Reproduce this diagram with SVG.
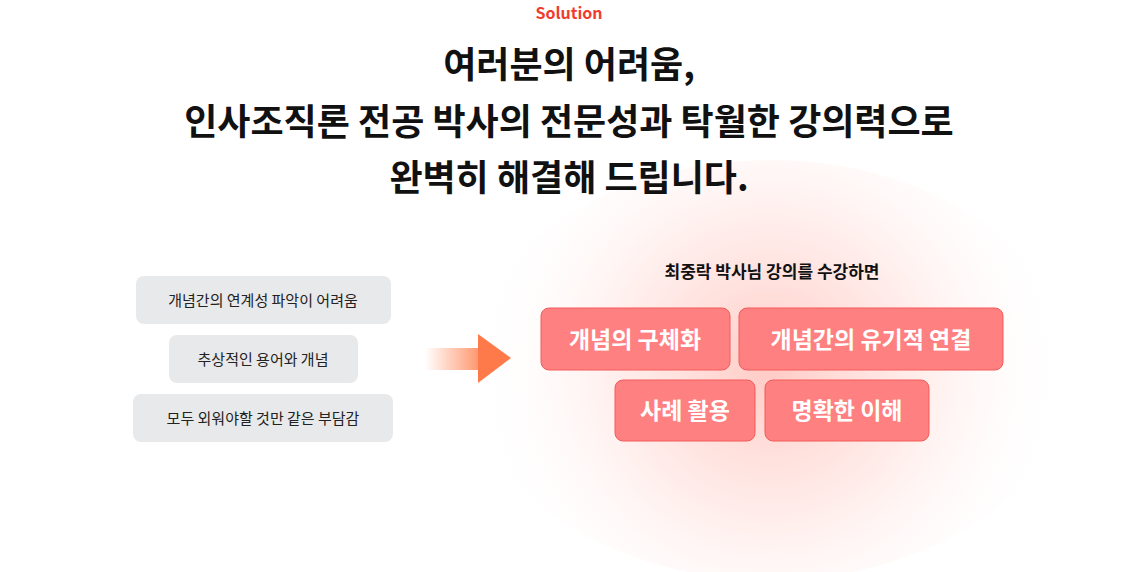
<svg xmlns="http://www.w3.org/2000/svg" width="1140" height="572" viewBox="0 0 1140 572">
<style>
text{font-family:"Noto Sans CJK KR","Noto Sans",sans-serif}
.t{font-size:36px;font-weight:700;fill:#111;text-anchor:middle}
.g{fill:#e8e9eb}
.gt{font-size:15px;fill:#222;text-anchor:middle}
.r{fill:#ff8080;stroke:#f25b5b;stroke-width:1}
.rt{font-size:23px;font-weight:700;fill:#fff;text-anchor:middle}
</style>
<defs>
<radialGradient id="glow" cx="770" cy="370" r="300" gradientUnits="userSpaceOnUse">
<stop offset="0" stop-color="#ff6b5b" stop-opacity="0.35"/>
<stop offset="0.5" stop-color="#ff8a7a" stop-opacity="0.15"/>
<stop offset="1" stop-color="#fff" stop-opacity="0"/>
</radialGradient>
<linearGradient id="shaft" x1="425" y1="0" x2="480" y2="0" gradientUnits="userSpaceOnUse">
<stop offset="0" stop-color="#ff8a5c" stop-opacity="0"/>
<stop offset="1" stop-color="#ff8a5c" stop-opacity="0.9"/>
</linearGradient>
</defs>
<rect width="1140" height="572" fill="#fff"/>
<ellipse cx="770" cy="370" rx="300" ry="210" fill="url(#glow)"/>
<text x="569" y="19" font-size="16" font-weight="700" fill="#f03c2e" text-anchor="middle">Solution</text>
<text class="t" x="569" y="78">여러분의 어려움,</text>
<text class="t" x="569" y="135">인사조직론 전공 박사의 전문성과 탁월한 강의력으로</text>
<text class="t" x="569" y="191">완벽히 해결해 드립니다.</text>
<g id="p1"><rect class="g" x="136" y="276" width="255" height="48" rx="8"/><text class="gt" x="263" y="306">개념간의 연계성 파악이 어려움</text></g>
<g id="p2"><rect class="g" x="169" y="335" width="189" height="48" rx="8"/><text class="gt" x="263" y="365">추상적인 용어와 개념</text></g>
<g id="p3"><rect class="g" x="133" y="394" width="260" height="48" rx="8"/><text class="gt" x="263" y="424">모두 외워야할 것만 같은 부담감</text></g>
<g id="connectors">
<rect x="425" y="348" width="54" height="22" fill="url(#shaft)"/>
<polygon points="478,334 511,358 478,383" fill="#ff7a4a"/>
</g>
<text x="772" y="278" font-size="17" font-weight="700" fill="#111" text-anchor="middle">최중락 박사님 강의를 수강하면</text>
<g id="s1"><rect class="r" x="541" y="308" width="189" height="62" rx="8"/><text class="rt" x="635" y="348">개념의 구체화</text></g>
<g id="s2"><rect class="r" x="739" y="308" width="264" height="62" rx="8"/><text class="rt" x="871" y="348">개념간의 유기적 연결</text></g>
<g id="s3"><rect class="r" x="615" y="380" width="140" height="61" rx="8"/><text class="rt" x="685" y="419">사례 활용</text></g>
<g id="s4"><rect class="r" x="765" y="380" width="164" height="61" rx="8"/><text class="rt" x="847" y="419">명확한 이해</text></g>
</svg>
